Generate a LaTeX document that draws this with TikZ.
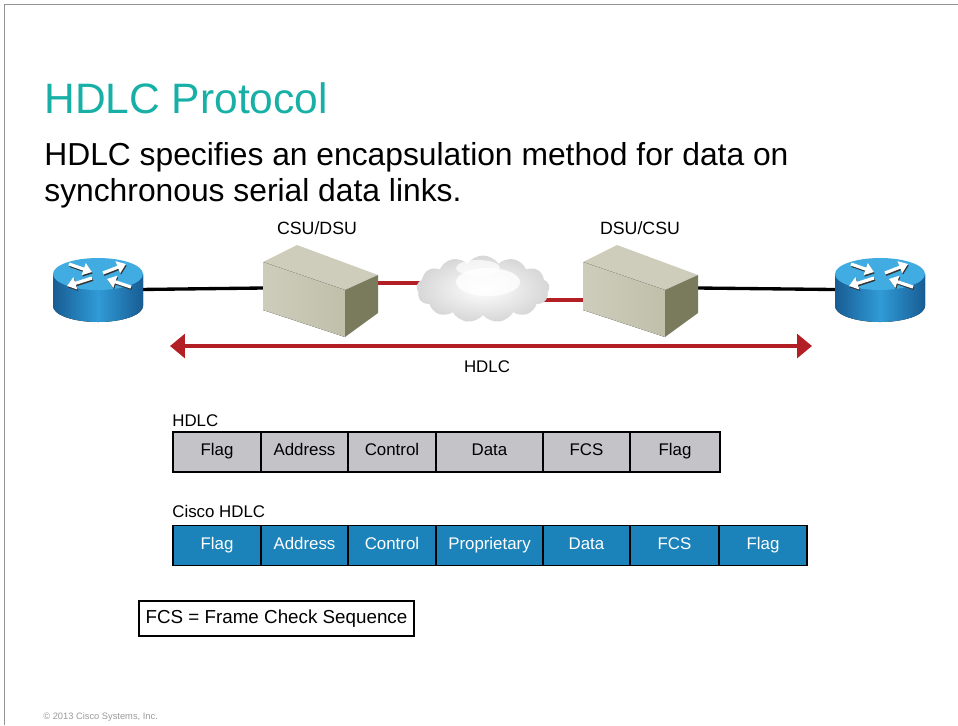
\documentclass[tikz,border=0pt]{standalone}
\usepackage{fontspec}
\setmainfont{Liberation Sans}
\usepackage{tikz}
\usetikzlibrary{arrows.meta, positioning, shapes.symbols}

\definecolor{ciscoteal}{RGB}{24,176,166}
\definecolor{wanred}{RGB}{178,32,38}
\definecolor{hdlcgray}{RGB}{196,195,200}
\definecolor{ciscoblue}{RGB}{27,131,185}
\definecolor{rtdark}{RGB}{24,92,148}
\definecolor{rtmid}{RGB}{48,155,214}
\definecolor{rttop}{RGB}{64,172,225}
\definecolor{boxtop}{RGB}{206,205,188}
\definecolor{boxfront}{RGB}{192,191,170}
\definecolor{boxside}{RGB}{122,122,92}

\tikzset{
  field/.style={draw, line width=0.9pt, inner sep=0pt, outer sep=0pt,
    minimum height=0.8cm, text height=6.6pt, text depth=2.6pt,
    font=\fontsize{9.6}{11}\selectfont},
  hdlcfield/.style={field, fill=hdlcgray},
  ciscofield/.style={field, fill=ciscoblue, text=white},
  smalltext/.style={inner sep=0pt, font=\fontsize{9.6}{11}\selectfont},
  serial/.style={line width=1.9pt, black},
  wan/.style={line width=1.8pt, wanred},
  rtarrow/.style={line width=1.8pt, white, -{Triangle[length=5pt,width=7pt]}},
  % router icon, origin at the centre of the top face
  router/.pic={
    \fill[left color=rtdark, right color=rtdark, middle color=rtmid]
      (-45,0) -- (-45,32) arc[start angle=180, end angle=0, x radius=45, y radius=16]
      -- (45,0) -- cycle;
    \fill[rttop] (0,0) ellipse[x radius=45, y radius=16];
    \foreach \xa/\ya/\xb/\yb in {-29/-10/-6/-2, 5/-1/28/-10, -6/4/-31/12, 33/13/9/5} {
      \draw[rtarrow, black!80] (\xa+0.8,\ya+1.4) -- (\xb+0.8,\yb+1.4);
      \draw[rtarrow] (\xa,\ya) -- (\xb,\yb);
    }
  },
  % CSU/DSU box, origin at the front top left corner
  csubox/.pic={
    \fill[boxtop] (0,0) -- (34,-17) -- (115,13) -- (82,28) -- cycle;
    \fill[left color=boxtop, right color=boxfront] (0,0) -- (82,28) -- (82,75) -- (0,48) -- cycle;
    \fill[boxside] (82,28) -- (115,13) -- (115,51) -- (82,75) -- cycle;
  }
}

\begin{document}
\begin{tikzpicture}[x=0.02cm, y=-0.02cm, >=Stealth]
    \useasboundingbox (0,0) rectangle (958,725);

    % Khung trang
    \draw[gray!85, line width=0.9pt] (4.5,725) -- (4.5,4.5) -- (958,4.5);

    % Tiêu đề và mô tả
    \node[anchor=base west, inner sep=0pt, text=ciscoteal,
      font=\fontsize{24.2}{29}\selectfont] (title) at (44,113) {HDLC Protocol};
    \node[anchor=base west, inner sep=0pt, font=\fontsize{18.1}{21}\selectfont]
      (desc1) at (44,165) {HDLC specifies an encapsulation method for data on};
    \node[anchor=base west, inner sep=0pt, font=\fontsize{18.1}{21}\selectfont]
      (desc2) at (44,201) {synchronous serial data links.};

    % Các điểm nối của thiết bị
    \coordinate (rtA) at (98,290);
    \coordinate (rtB) at (880,290);
    \coordinate (csuL) at (263,288);
    \coordinate (csuR) at (378,283);
    \coordinate (dsuL) at (583,300);
    \coordinate (dsuR) at (698,288);

    % Đường nối
    \draw[serial] (rtA) -- (csuL);
    \draw[serial] (dsuR) -- (rtB);
    \draw[wan] (csuR) -- (483,283);
    \draw[wan] (483,300) -- (dsuL);

    % Thiết bị
    \pic at (98,274) {router};
    \pic at (880,274) {router};
    \pic at (263,262) {csubox};
    \pic at (583,262) {csubox};

    % Đám mây WAN
    \node[cloud, cloud puffs=13, cloud puff arc=110, aspect=2,
      minimum width=2.66cm, minimum height=1.34cm, inner sep=0pt,
      inner color=white, outer color=gray!32] (wancloud) at (483,289) {};
    \fill[white, opacity=0.8] (488,282) ellipse[x radius=32, y radius=14];
    \fill[white, opacity=0.7] (478,268) ellipse[x radius=22, y radius=8];

    \node[smalltext, font=\fontsize{10.1}{12}\selectfont] (csulbl) at (317,228) {CSU/DSU};
    \node[smalltext, font=\fontsize{10.1}{12}\selectfont] (dsulbl) at (640,228) {DSU/CSU};

    % Mũi tên phạm vi HDLC
    \coordinate (spanL) at (170,346);
    \coordinate (spanR) at (812,346);
    \draw[wanred, line width=2.3pt,
      {Triangle[length=8.5pt,width=13.5pt]}-{Triangle[length=8.5pt,width=13.5pt]}]
      (spanL) -- (spanR);
    \node[smalltext] (spanlbl) at (487,367) {HDLC};

    % Khung HDLC chuẩn
    \node[smalltext, anchor=base west] (hlbl) at (172,426) {HDLC};
    \coordinate (h0) at (173,452);
    \foreach \w/\t [count=\i] in {88/Flag,87/Address,88/Control,107/Data,87/FCS,90/Flag} {
      \pgfmathtruncatemacro\prev{\i-1}
      \node[hdlcfield, minimum width=\w*0.02cm, right=0pt of h\prev] (h\i) {\t};
    }

    % Khung Cisco HDLC
    \node[smalltext, anchor=base west] (clbl) at (172,517) {Cisco HDLC};
    \coordinate (c0) at (173,545.5);
    \foreach \w/\t [count=\i] in {88/Flag,87/Address,88/Control,107/Proprietary,87/Data,89/FCS,88/Flag} {
      \pgfmathtruncatemacro\prev{\i-1}
      \node[ciscofield, minimum width=\w*0.02cm, right=0pt of c\prev] (c\i) {\t};
    }

    % Chú thích
    \node[draw, line width=0.85pt, inner sep=0pt, minimum width=5.5cm, minimum height=0.7cm,
      font=\fontsize{10.7}{13}\selectfont] (fcsnote) at (276.5,618.5) {FCS = Frame Check Sequence};

    \node[anchor=base west, inner sep=0pt, text=gray!80, font=\fontsize{5.3}{6}\selectfont]
      (copy) at (43,719) {© 2013 Cisco Systems, Inc.};
\end{tikzpicture}
\end{document}
